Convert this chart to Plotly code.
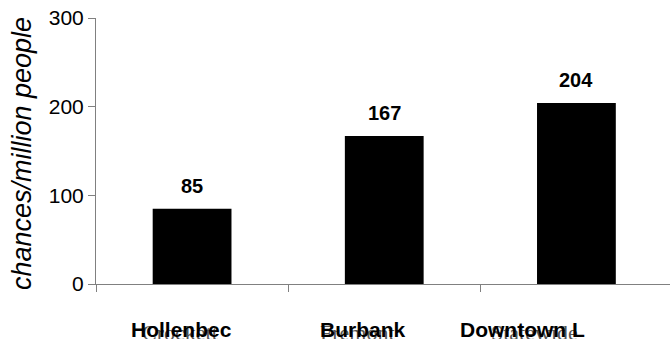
import plotly.graph_objects as go

categories = ["Hollenbec", "Burbank", "Downtown L"]
values = [85, 167, 204]
under_labels = ["Crockett", "Fremont", "Statewide"]
y_ticks = [0, 100, 200, 300]

# label offsets (style only)
label_shift = [-11, -21, -54]
under_shift = [-12, -27, -42]

fig = go.Figure()
fig.add_trace(go.Bar(
    x=categories, y=values, width=0.41,
    marker=dict(color="#000000", line=dict(width=0)),
    showlegend=False, hoverinfo="skip",
))

for c, v in zip(categories, values):
    fig.add_annotation(x=c, y=v, text=f"<b>{v}</b>", showarrow=False,
                       yanchor="bottom", yshift=10,
                       font=dict(family="Arial, Liberation Sans", size=20, color="#000"))

for i, c in enumerate(categories):
    fig.add_annotation(x=c, y=0, yref="paper", text=under_labels[i], showarrow=False,
                       xanchor="center", yanchor="top", xshift=under_shift[i], yshift=-34,
                       font=dict(family="Liberation Serif, Times New Roman, serif", size=22, color="#555555"))
    fig.add_annotation(x=c, y=0, yref="paper", text=f"<b>{c}</b>", showarrow=False,
                       xanchor="center", yanchor="top", xshift=label_shift[i], yshift=-32,
                       font=dict(family="Arial, Liberation Sans", size=21, color="#000"))

fig.add_annotation(x=-0.13, y=0.49, xref="paper", yref="paper",
                   text="<i>chances/million people</i>", textangle=-90, showarrow=False,
                   xanchor="center", yanchor="middle",
                   font=dict(family="Arial, Liberation Sans", size=27, color="#000"))

fig.update_layout(
    width=670, height=339,
    margin=dict(l=96, r=0, t=18, b=55, pad=0),
    plot_bgcolor="white", paper_bgcolor="white",
    bargap=0.59,
)
fig.update_xaxes(
    range=[-0.5, 2.487], showline=True, linecolor="#808080", linewidth=1,
    ticks="outside", ticklen=7, tickcolor="#808080", tickson="boundaries",
    showticklabels=False, showgrid=False, zeroline=False, fixedrange=True,
)
fig.update_yaxes(
    range=[0, 300], tickvals=y_ticks, showline=True, linecolor="#808080", linewidth=1,
    ticks="outside", ticklen=7, tickcolor="#808080",
    tickfont=dict(family="Arial, Liberation Sans", size=21, color="#000"),
    showgrid=False, zeroline=False, fixedrange=True,
)

fig.write_html("out.html", config={"displayModeBar": False})
